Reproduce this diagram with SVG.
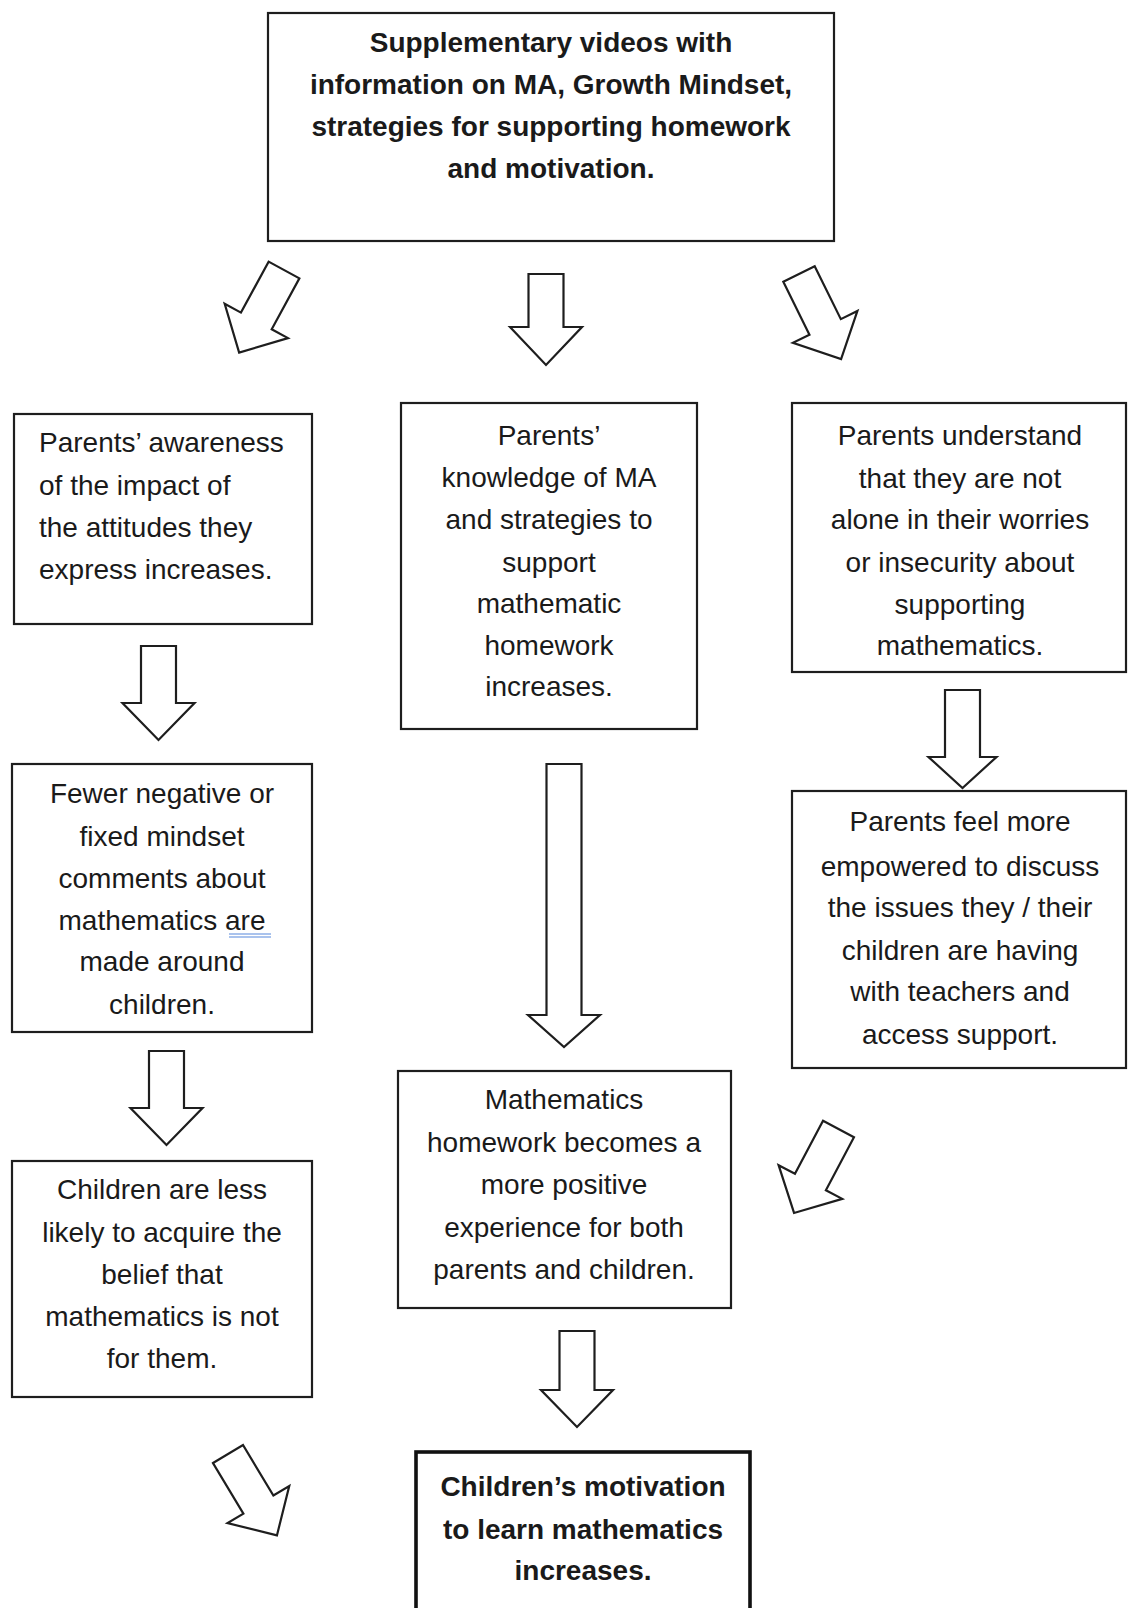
<svg xmlns="http://www.w3.org/2000/svg" width="1128" height="1608" viewBox="0 0 1128 1608">
  <style>
    .box { fill: #ffffff; stroke: #1e1e1e; stroke-width: 2.2; }
    .box-strong { fill: #ffffff; stroke: #111111; stroke-width: 3.6; }
    .arrow { fill: #ffffff; stroke: #1e1e1e; stroke-width: 2.2; stroke-linejoin: miter; }
    text { font-family: "Liberation Sans", Arial, sans-serif; font-size: 28px; fill: #1a1a1a; }
    .c { text-anchor: middle; }
    .b { font-weight: bold; font-size: 28px; }
  </style>

  <rect width="1128" height="1608" fill="#ffffff"/>

  <!-- block arrows between the boxes -->
  <g id="connectors">
    <!-- top row: three arrows leaving the videos box -->
    <polygon class="arrow" transform="translate(284,270) rotate(28.5)" points="-17.5,0 17.5,0 17.5,58 36,58 0,94 -36,58 -17.5,58"/>
    <polygon class="arrow" transform="translate(546,274)" points="-17.5,0 17.5,0 17.5,53 36,53 0,91 -36,53 -17.5,53"/>
    <polygon class="arrow" transform="translate(799,274) rotate(-26.3)" points="-17.5,0 17.5,0 17.5,59 36,59 0,95 -36,59 -17.5,59"/>
    <!-- left column -->
    <polygon class="arrow" transform="translate(158.5,646)" points="-17.5,0 17.5,0 17.5,57 36,57 0,94 -36,57 -17.5,57"/>
    <polygon class="arrow" transform="translate(166.5,1051)" points="-17.5,0 17.5,0 17.5,57 36,57 0,94 -36,57 -17.5,57"/>
    <polygon class="arrow" transform="translate(228,1454) rotate(-31)" points="-17.5,0 17.5,0 17.5,59 36,59 0,95 -36,59 -17.5,59"/>
    <!-- middle column -->
    <polygon class="arrow" transform="translate(564,764)" points="-17.5,0 17.5,0 17.5,251 36,251 0,283 -36,251 -17.5,251"/>
    <polygon class="arrow" transform="translate(577,1331)" points="-17.5,0 17.5,0 17.5,59 36,59 0,96 -36,59 -17.5,59"/>
    <!-- right column -->
    <polygon class="arrow" transform="translate(962.5,690)" points="-17.5,0 17.5,0 17.5,67 34,67 0,98 -34,67 -17.5,67"/>
    <polygon class="arrow" transform="translate(838.5,1129) rotate(27.9)" points="-17.5,0 17.5,0 17.5,60 36,60 0,95 -36,60 -17.5,60"/>
  </g>

  <g id="videos">
    <rect class="box" x="268" y="13" width="566" height="228"/>
    <text class="c b" x="551" y="52">Supplementary videos with</text>
    <text class="c b" x="551" y="94">information on MA, Growth Mindset,</text>
    <text class="c b" x="551" y="136">strategies for supporting homework</text>
    <text class="c b" x="551" y="178">and motivation.</text>
  </g>

  <g id="awareness">
    <rect class="box" x="14" y="414" width="298" height="210"/>
    <text x="39" y="452">Parents’ awareness</text>
    <text x="39" y="495">of the impact of</text>
    <text x="39" y="537">the attitudes they</text>
    <text x="39" y="579">express increases.</text>
  </g>

  <g id="knowledge">
    <rect class="box" x="401" y="403" width="296" height="326"/>
    <text class="c" x="549" y="445">Parents’</text>
    <text class="c" x="549" y="487">knowledge of MA</text>
    <text class="c" x="549" y="529">and strategies to</text>
    <text class="c" x="549" y="572">support</text>
    <text class="c" x="549" y="613">mathematic</text>
    <text class="c" x="549" y="655">homework</text>
    <text class="c" x="549" y="696">increases.</text>
  </g>

  <g id="not-alone">
    <rect class="box" x="792" y="403" width="334" height="269"/>
    <text class="c" x="960" y="445">Parents understand</text>
    <text class="c" x="960" y="488">that they are not</text>
    <text class="c" x="960" y="529">alone in their worries</text>
    <text class="c" x="960" y="572">or insecurity about</text>
    <text class="c" x="960" y="614">supporting</text>
    <text class="c" x="960" y="655">mathematics.</text>
  </g>

  <g id="fewer-comments">
    <rect class="box" x="12" y="764" width="300" height="268"/>
    <text class="c" x="162" y="803">Fewer negative or</text>
    <text class="c" x="162" y="846">fixed mindset</text>
    <text class="c" x="162" y="888">comments about</text>
    <text class="c" x="162" y="930">mathematics are</text>
    <text class="c" x="162" y="971">made around</text>
    <text class="c" x="162" y="1014">children.</text>
    <!-- grammar-check underline under "are" -->
    <path d="M229,934 H271 M229,937 H271" stroke="#8fb0e8" stroke-width="1.6" fill="none"/>
  </g>

  <g id="empowered">
    <rect class="box" x="792" y="791" width="334" height="277"/>
    <text class="c" x="960" y="831">Parents feel more</text>
    <text class="c" x="960" y="876">empowered to discuss</text>
    <text class="c" x="960" y="917">the issues they / their</text>
    <text class="c" x="960" y="960">children are having</text>
    <text class="c" x="960" y="1001">with teachers and</text>
    <text class="c" x="960" y="1044">access support.</text>
  </g>

  <g id="positive-homework">
    <rect class="box" x="398" y="1071" width="333" height="237"/>
    <text class="c" x="564" y="1109">Mathematics</text>
    <text class="c" x="564" y="1152">homework becomes a</text>
    <text class="c" x="564" y="1194">more positive</text>
    <text class="c" x="564" y="1237">experience for both</text>
    <text class="c" x="564" y="1279">parents and children.</text>
  </g>

  <g id="belief">
    <rect class="box" x="12" y="1161" width="300" height="236"/>
    <text class="c" x="162" y="1199">Children are less</text>
    <text class="c" x="162" y="1242">likely to acquire the</text>
    <text class="c" x="162" y="1284">belief that</text>
    <text class="c" x="162" y="1326">mathematics is not</text>
    <text class="c" x="162" y="1368">for them.</text>
  </g>

  <g id="motivation">
    <rect class="box-strong" x="416" y="1452" width="334" height="170"/>
    <text class="c b" x="583" y="1496">Children’s  motivation</text>
    <text class="c b" x="583" y="1539">to learn mathematics</text>
    <text class="c b" x="583" y="1580">increases.</text>
  </g>
</svg>
